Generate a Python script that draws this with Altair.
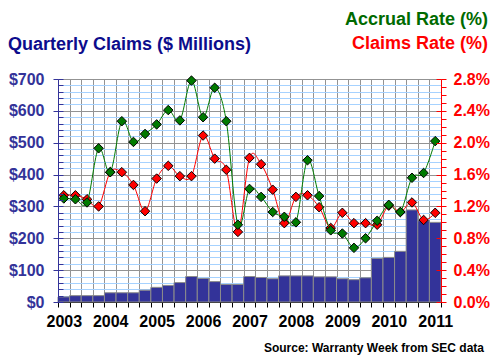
import altair as alt
import pandas as pd

# ---- data (33 quarters, 2003Q1 .. 2011Q1) ----
first_year = 2003
claims_musd = [16, 20, 20, 20, 29, 29, 29, 37, 46, 52, 61, 80, 74, 64, 55, 55,
               80, 77, 73, 82, 82, 82, 79, 79, 73, 70, 76, 137, 140, 159, 289, 255, 250]
accrual_rate = [1.30, 1.29, 1.25, 1.93, 1.63, 2.27, 2.01, 2.11, 2.23, 2.41, 2.28,
                2.78, 2.32, 2.69, 2.27, 0.97, 1.42, 1.32, 1.13, 1.07, 1.00, 1.78,
                1.33, 0.90, 0.86, 0.68, 0.80, 1.02, 1.22, 1.13, 1.56, 1.62, 2.02]
claims_rate = [1.34, 1.34, 1.29, 1.20, 1.63, 1.63, 1.47, 1.14, 1.55, 1.71, 1.58,
               1.58, 2.09, 1.80, 1.66, 0.88, 1.81, 1.73, 1.41, 0.99, 1.32, 1.34,
               1.19, 0.93, 1.12, 0.99, 0.99, 0.97, 1.21, 1.13, 1.25, 1.03, 1.12]

title_left = "Quarterly Claims ($ Millions)"
title_accrual = "Accrual Rate (%)"
title_claims = "Claims Rate (%)"
source_text = "Source: Warranty Week from SEC data"

n = len(claims_musd)
df = pd.DataFrame({
    "q0": list(range(n)),
    "q1": [i + 1 for i in range(n)],
    "qm": [i + 0.5 for i in range(n)],
    "claims": claims_musd,
    "base": [0] * n,
})
rates = pd.DataFrame({
    "qm": [i + 0.5 for i in range(n)] * 2,
    "rate": claims_rate + accrual_rate,
    "series": ["claims"] * n + ["accrual"] * n,
})

FONT = "Liberation Sans"
NAVY = "#333399"
GRID = "#939393"
LBLUE = "#a6d2ff"
GREEN = "#007a00"
RED = "#ff0000"

W, H = 383, 223
xscale = alt.Scale(domain=[0, n], nice=False, zero=False)
yl_scale = alt.Scale(domain=[0, 700], nice=False, zero=True)
yr_scale = alt.Scale(domain=[0, 2.8], nice=False, zero=True)

x_axis = alt.Axis(
    orient="bottom", values=list(range(n + 1)), grid=True, gridColor=GRID, gridWidth=1,
    tickSize=5, tickColor="black", domainColor="black",
    labelExpr=f"datum.value % 4 === 0 && datum.value < {n} ? '' + ({first_year} + datum.value / 4) : ''",
    labelOffset=5.8, labelFlush=False, labelOverlap=False, labelPadding=6,
    labelFont=FONT, labelFontSize=16, labelFontWeight="bold", labelColor="black",
    title=None,
)
grid_axis = alt.Axis(
    orient="left", values=list(range(0, 701, 20)), grid=True, zindex=0,
    gridColor={"condition": {"test": "datum.value % 100 === 0", "value": GRID}, "value": LBLUE},
    domain=False, ticks=False, labels=False, title=None,
)
left_axis = alt.Axis(
    orient="left", values=list(range(0, 701, 20)), grid=False,
    tickOpacity={"condition": {"test": "datum.value % 100 === 0", "value": 1}, "value": 0},
    tickSize=5, tickColor=NAVY, domainColor=NAVY, zindex=1,
    labelExpr="datum.value % 100 === 0 ? '$' + datum.value : ''",
    labelPadding=9, labelFont=FONT, labelFontSize=16, labelFontWeight="bold",
    labelColor=NAVY, labelOverlap=False, labelFlush=False, title=None,
)
left_inner = alt.Axis(
    orient="left", offset=-5, values=list(range(0, 701, 20)), grid=False, zindex=1,
    tickSize=5, tickColor=NAVY, domain=False, labels=False, title=None,
)
right_axis = alt.Axis(
    orient="right", values=[round(i * 0.1, 1) for i in range(29)], grid=False,
    tickSize=5, tickColor=RED, domainColor=RED, zindex=1,
    labelExpr="round(datum.value * 10) % 4 === 0 ? format(datum.value, '.1f') + '%' : ''",
    labelPadding=7, labelFont=FONT, labelFontSize=16, labelFontWeight="bold",
    labelColor=RED, labelOverlap=False, labelFlush=False, title=None,
)
right_inner = alt.Axis(
    orient="right", offset=-5, values=[round(i * 0.4, 1) for i in range(8)], grid=False,
    zindex=1, tickSize=5, tickColor=RED, domain=False, labels=False, title=None,
)

X0 = alt.X("q0:Q", scale=xscale, axis=x_axis)
XM = alt.X("qm:Q", scale=xscale, axis=x_axis)

base = alt.Chart(df)
grid_layer = base.mark_point(opacity=0).encode(
    x=XM, y=alt.Y("claims:Q", scale=yl_scale, axis=grid_axis),
)
bars = base.mark_rect(color=NAVY, stroke="#8c8c8c", strokeWidth=1).encode(
    x=X0, x2="q1:Q",
    y=alt.Y("claims:Q", scale=yl_scale, axis=left_axis),
    y2="base:Q",
)
ticks_left = base.mark_point(opacity=0).encode(
    x=XM, y=alt.Y("claims:Q", scale=yl_scale, axis=left_inner),
)

rbase = alt.Chart(rates)
YR = alt.Y("rate:Q", scale=yr_scale, axis=right_axis)
def series_layers(name, color):
    src = rbase.transform_filter(alt.datum.series == name)
    line = src.mark_line(color=color, strokeWidth=1, interpolate="cardinal").encode(
        x=XM, y=YR,
    )
    pts = src.mark_point(shape="diamond", filled=True, size=90, fill=color,
                         stroke="black", strokeWidth=1, opacity=1).encode(
        x=XM, y=YR,
    )
    return [line, pts]

rate_layer = alt.layer(*(series_layers("claims", RED) + series_layers("accrual", GREEN)))

ticks_right = rbase.mark_point(opacity=0).encode(
    x=XM, y=alt.Y("rate:Q", scale=yr_scale, axis=right_inner),
)

one = alt.Chart(pd.DataFrame({"a": [0]}))
def label(text, x, y, color, size, align):
    return one.mark_text(text=text, font=FONT, fontSize=size, fontWeight="bold",
                         color=color, align=align, baseline="alphabetic").encode(
        x=alt.value(x), y=alt.value(y))

texts = alt.layer(
    label(title_left, -50, -29.5, "#0c0c8c", 18, "left"),
    label(title_accrual, 430, -54, "#006a00", 18, "right"),
    label(title_claims, 430, -30.5, RED, 18, "right"),
    label(source_text, 426, 273, "black", 12, "right"),
)

chart = alt.layer(grid_layer, bars, ticks_left, rate_layer, ticks_right, texts).resolve_scale(
    y="independent"
).properties(
    width=W, height=H,
    autosize=alt.AutoSizeParams(type="none"),
    padding={"left": 50, "top": 71, "right": 49, "bottom": 53},
    background="white",
).configure_view(stroke=None)

chart.save("out.html", embed_options={"renderer": "svg", "actions": False})
